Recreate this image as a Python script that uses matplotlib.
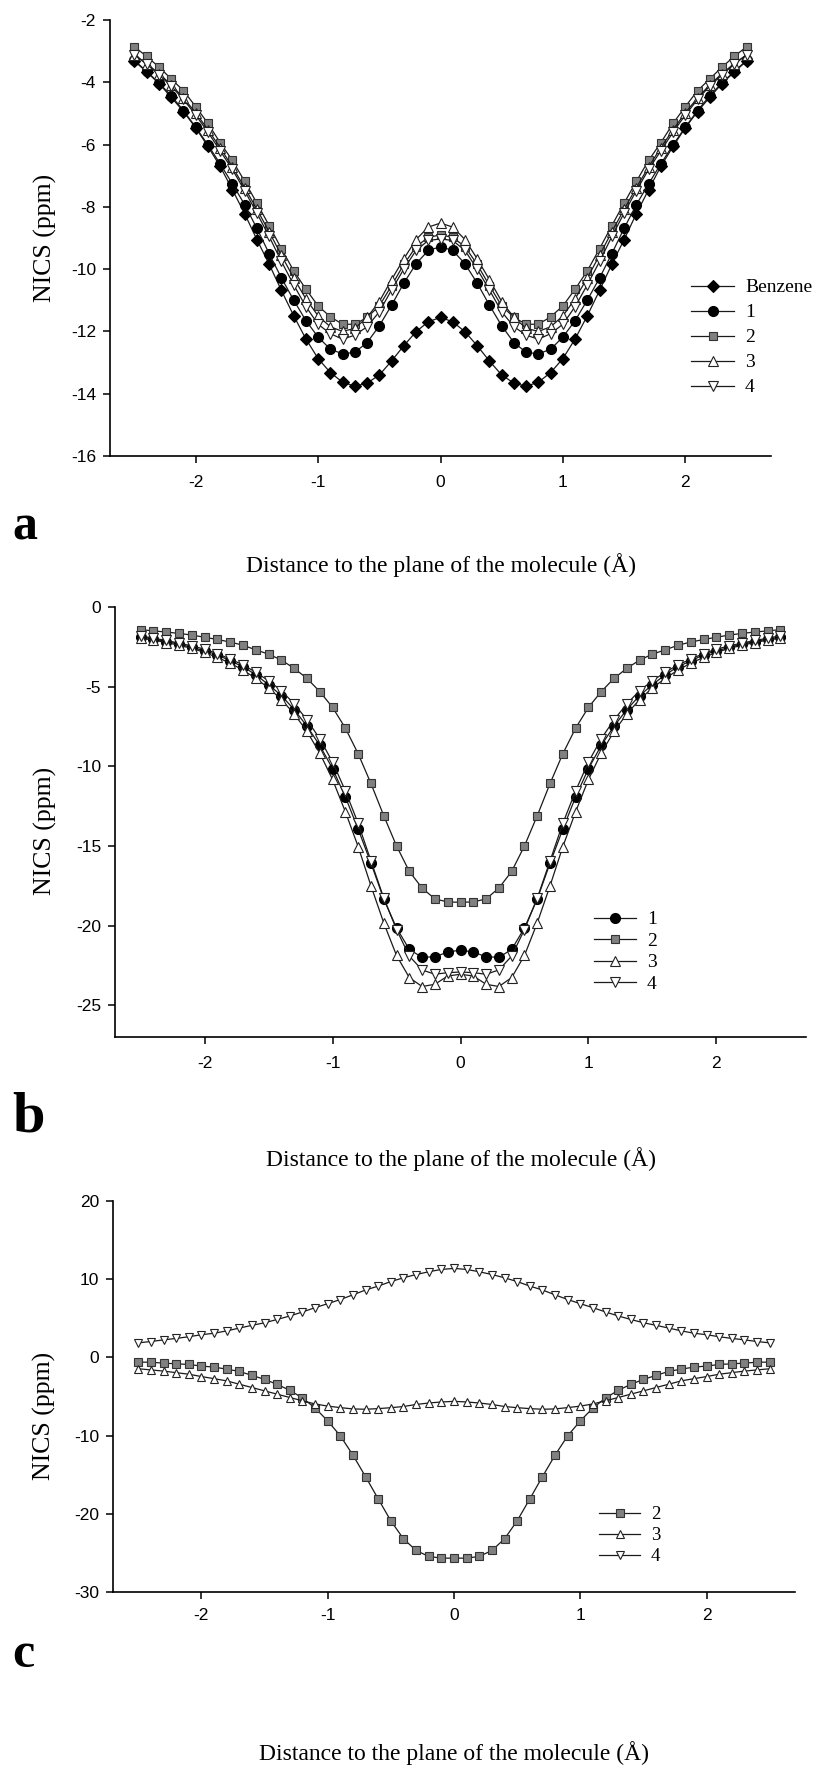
import numpy as np
import matplotlib
matplotlib.use("Agg")
import matplotlib.pyplot as plt

plt.rcParams["axes.unicode_minus"] = False

# distance to the molecular plane (A), 0.1 A grid
x = np.linspace(-2.5, 2.5, 51)

# panel a: NICS scans
a_benzene = [-3.32, -3.67, -4.04, -4.48, -4.94, -5.46, -6.06, -6.70, -7.45, -8.22, -9.05, -9.84, -10.68,
             -11.49, -12.24, -12.87, -13.32, -13.63, -13.76, -13.66, -13.40, -12.95, -12.46, -12.01, -11.69,
             -11.55,
             -11.69, -12.01, -12.46, -12.95, -13.40, -13.66, -13.76, -13.63, -13.32, -12.87, -12.24, -11.49,
             -10.68, -9.84, -9.05, -8.22, -7.45, -6.70, -6.06, -5.46, -4.94, -4.48, -4.04, -3.67, -3.32]
a_1 = [-3.30, -3.65, -4.02, -4.43, -4.91, -5.44, -6.01, -6.62, -7.26, -7.93, -8.69, -9.50, -10.28,
       -10.99, -11.65, -12.18, -12.57, -12.72, -12.67, -12.36, -11.82, -11.16, -10.45, -9.83, -9.40,
       -9.28,
       -9.40, -9.83, -10.45, -11.16, -11.82, -12.36, -12.67, -12.72, -12.57, -12.18, -11.65, -10.99,
       -10.28, -9.50, -8.69, -7.93, -7.26, -6.62, -6.01, -5.44, -4.91, -4.43, -4.02, -3.65, -3.30]
a_2 = [-2.86, -3.17, -3.51, -3.89, -4.27, -4.78, -5.32, -5.94, -6.51, -7.18, -7.88, -8.60, -9.34,
       -10.05, -10.64, -11.18, -11.53, -11.77, -11.77, -11.55, -11.18, -10.53, -9.85, -9.28, -8.98,
       -8.90,
       -8.98, -9.28, -9.85, -10.53, -11.18, -11.55, -11.77, -11.77, -11.53, -11.18, -10.64, -10.05,
       -9.34, -8.60, -7.88, -7.18, -6.51, -5.94, -5.32, -4.78, -4.27, -3.89, -3.51, -3.17, -2.86]
a_3 = [-3.12, -3.40, -3.72, -4.08, -4.50, -4.98, -5.52, -6.10, -6.72, -7.38, -8.08, -8.80, -9.55,
       -10.28, -10.95, -11.50, -11.85, -12.00, -11.90, -11.55, -11.04, -10.34, -9.67, -9.05, -8.65,
       -8.52,
       -8.65, -9.05, -9.67, -10.34, -11.04, -11.55, -11.90, -12.00, -11.85, -11.50, -10.95, -10.28,
       -9.55, -8.80, -8.08, -7.38, -6.72, -6.10, -5.52, -4.98, -4.50, -4.08, -3.72, -3.40, -3.12]
a_4 = [-3.12, -3.42, -3.76, -4.12, -4.55, -5.05, -5.60, -6.20, -6.80, -7.48, -8.20, -8.95, -9.75,
       -10.50, -11.20, -11.77, -12.07, -12.25, -12.12, -11.85, -11.37, -10.67, -10.00, -9.40, -9.08,
       -9.03,
       -9.08, -9.40, -10.00, -10.67, -11.37, -11.85, -12.12, -12.25, -12.07, -11.77, -11.20, -10.50,
       -9.75, -8.95, -8.20, -7.48, -6.80, -6.20, -5.60, -5.05, -4.55, -4.12, -3.76, -3.42, -3.12]

# panel b
b_1 = [-1.88, -2.02, -2.17, -2.33, -2.54, -2.75, -3.00, -3.38, -3.75, -4.25, -4.88, -5.56, -6.44,
       -7.48, -8.69, -10.15, -11.92, -13.94, -16.08, -18.33, -20.15, -21.50, -22.00, -21.96, -21.67,
       -21.54,
       -21.67, -21.96, -22.00, -21.50, -20.15, -18.33, -16.08, -13.94, -11.92, -10.15, -8.69, -7.48,
       -6.44, -5.56, -4.88, -4.25, -3.75, -3.38, -3.00, -2.75, -2.54, -2.33, -2.17, -2.02, -1.88]
b_2 = [-1.42, -1.50, -1.57, -1.66, -1.76, -1.90, -2.04, -2.20, -2.40, -2.69, -2.96, -3.33, -3.85,
       -4.48, -5.31, -6.30, -7.60, -9.21, -11.08, -13.10, -15.00, -16.60, -17.65, -18.33, -18.52,
       -18.54,
       -18.52, -18.33, -17.65, -16.60, -15.00, -13.10, -11.08, -9.21, -7.60, -6.30, -5.31, -4.48,
       -3.85, -3.33, -2.96, -2.69, -2.40, -2.20, -2.04, -1.90, -1.76, -1.66, -1.57, -1.50, -1.42]
b_3 = [-1.96, -2.08, -2.23, -2.40, -2.60, -2.85, -3.17, -3.52, -3.96, -4.48, -5.08, -5.81, -6.71,
       -7.81, -9.17, -10.83, -12.85, -15.04, -17.50, -19.83, -21.88, -23.27, -23.83, -23.69, -23.17,
       -23.06,
       -23.17, -23.69, -23.83, -23.27, -21.88, -19.83, -17.50, -15.04, -12.85, -10.83, -9.17, -7.81,
       -6.71, -5.81, -5.08, -4.48, -3.96, -3.52, -3.17, -2.85, -2.60, -2.40, -2.23, -2.08, -1.96]
b_4 = [-1.81, -1.96, -2.10, -2.27, -2.44, -2.65, -2.92, -3.27, -3.63, -4.10, -4.63, -5.25, -6.08,
       -7.08, -8.27, -9.73, -11.54, -13.58, -15.94, -18.27, -20.25, -21.92, -22.79, -23.06, -22.96,
       -22.92,
       -22.96, -23.06, -22.79, -21.92, -20.25, -18.27, -15.94, -13.58, -11.54, -9.73, -8.27, -7.08,
       -6.08, -5.25, -4.63, -4.10, -3.63, -3.27, -2.92, -2.65, -2.44, -2.27, -2.10, -1.96, -1.81]

# panel c
c_2 = [-0.60, -0.62, -0.73, -0.82, -0.90, -1.11, -1.24, -1.50, -1.79, -2.30, -2.81, -3.45, -4.21,
       -5.19, -6.47, -8.12, -10.03, -12.50, -15.26, -18.10, -20.90, -23.20, -24.69, -25.45, -25.67,
       -25.67,
       -25.67, -25.45, -24.69, -23.20, -20.90, -18.10, -15.26, -12.50, -10.03, -8.12, -6.47, -5.19,
       -4.21, -3.45, -2.81, -2.30, -1.79, -1.50, -1.24, -1.11, -0.90, -0.82, -0.73, -0.62, -0.60]
c_3 = [-1.45, -1.60, -1.75, -1.95, -2.15, -2.45, -2.72, -3.00, -3.43, -3.85, -4.28, -4.70, -5.13,
       -5.55, -5.95, -6.23, -6.42, -6.59, -6.63, -6.55, -6.43, -6.28, -6.02, -5.83, -5.70,
       -5.62,
       -5.70, -5.83, -6.02, -6.28, -6.43, -6.55, -6.63, -6.59, -6.42, -6.23, -5.95, -5.55,
       -5.13, -4.70, -4.28, -3.85, -3.43, -3.00, -2.72, -2.45, -2.15, -1.95, -1.75, -1.60, -1.45]
c_4 = [1.86, 2.03, 2.24, 2.43, 2.64, 2.90, 3.09, 3.39, 3.75, 4.10, 4.43, 4.85, 5.30,
       5.81, 6.36, 6.87, 7.40, 8.00, 8.62, 9.12, 9.70, 10.18, 10.60, 10.95, 11.25,
       11.38,
       11.25, 10.95, 10.60, 10.18, 9.70, 9.12, 8.62, 8.00, 7.40, 6.87, 6.36, 5.81,
       5.30, 4.85, 4.43, 4.10, 3.75, 3.39, 3.09, 2.90, 2.64, 2.43, 2.24, 2.03, 1.86]

xlabel = "Distance to the plane of the molecule (\u00c5)"
ylabel = "NICS (ppm)"

# marker style for each compound
STYLE = {
    "Benzene": dict(marker="D", mfc="black", mec="black", ms=6.0),
    "1": dict(marker="o", mfc="black", mec="black", ms=7.2),
    "2": dict(marker="s", mfc="#808080", mec="#333333", ms=6.3),
    "3": dict(marker="^", mfc="white", mec="#222222", ms=7.8),
    "4": dict(marker="v", mfc="white", mec="#222222", ms=7.8),
}

SERIF = "Liberation Serif"
SANS = "Liberation Sans"
W, H = 821, 1773

fig = plt.figure(figsize=(W / 100, H / 100), dpi=100)


def make_axes(left, right, top, bottom):
    # pixel box (y from the top) -> figure fraction
    return fig.add_axes([left / W, 1 - bottom / H, (right - left) / W, (bottom - top) / H])


def draw_panel(ax, series, ylim, yticks, leg_xy, leg_size, leg_space, xpad, ms_scale=1.0):
    for name, vals in series:
        st = dict(STYLE[name])
        st["ms"] = st["ms"] * ms_scale
        ax.plot(x, vals, color="#1a1a1a", lw=0.9, mew=0.8, label=name, **st)
    ax.set_xlim(-2.7, 2.7)
    ax.set_ylim(*ylim)
    ax.set_xticks([-2, -1, 0, 1, 2])
    ax.set_yticks(yticks)
    for side in ("top", "right"):
        ax.spines[side].set_visible(False)
    for side in ("left", "bottom"):
        ax.spines[side].set_linewidth(1.2)
    ax.tick_params(direction="out", length=5, width=1.1, labelsize=12.5)
    ax.tick_params(axis="x", pad=xpad)
    ax.tick_params(axis="y", pad=5)
    for lab in ax.get_xticklabels() + ax.get_yticklabels():
        lab.set_fontfamily(SANS)
    ax.legend(loc="center left", bbox_to_anchor=leg_xy, bbox_transform=ax.transData,
              frameon=False, borderpad=0, borderaxespad=0, numpoints=1,
              handlelength=2.2, handletextpad=0.55, labelspacing=leg_space,
              prop=dict(family=SERIF, size=leg_size))


ax_a = make_axes(110, 771, 20, 456)
draw_panel(ax_a, [("Benzene", a_benzene), ("1", a_1), ("2", a_2), ("3", a_3), ("4", a_4)],
           (-16, -2), np.arange(-16, -1, 2), (2.05, -12.2), 14, 0.38, 9)

ax_b = make_axes(115, 806, 607, 1037)
draw_panel(ax_b, [("1", b_1), ("2", b_2), ("3", b_3), ("4", b_4)],
           (-27, 0), np.arange(-25, 1, 5), (1.04, -21.65), 14, 0.2, 8.5)

ax_c = make_axes(113, 795, 1201, 1592)
draw_panel(ax_c, [("2", c_2), ("3", c_3), ("4", c_4)],
           (-30, 20), np.arange(-30, 21, 10), (1.15, -22.8), 13.5, 0.2, 6.5, ms_scale=0.82)

# axis titles, placed relative to each panel
for ax, xl_y, yl_x, yl_y in [(ax_a, -0.25, -0.098, 0.5),
                             (ax_b, -0.284, -0.101, 0.48),
                             (ax_c, -0.412, -0.100, 0.45)]:
    ax.set_xlabel(xlabel, fontfamily=SERIF, fontsize=17, va="center")
    ax.xaxis.set_label_coords(0.5, xl_y)
    ax.set_ylabel(ylabel, fontfamily=SERIF, fontsize=18.5, va="center")
    ax.yaxis.set_label_coords(yl_x, yl_y)

# panel letters
fig.text(12 / W, 1 - 528 / H, "a", fontfamily=SERIF, fontweight="bold", fontsize=36, ha="left", va="center")
fig.text(12 / W, 1 - 1118 / H, "b", fontfamily=SERIF, fontweight="bold", fontsize=42, ha="left", va="center")
fig.text(12 / W, 1 - 1655 / H, "c", fontfamily=SERIF, fontweight="bold", fontsize=36, ha="left", va="center")

fig.savefig("out.png", dpi=100)
